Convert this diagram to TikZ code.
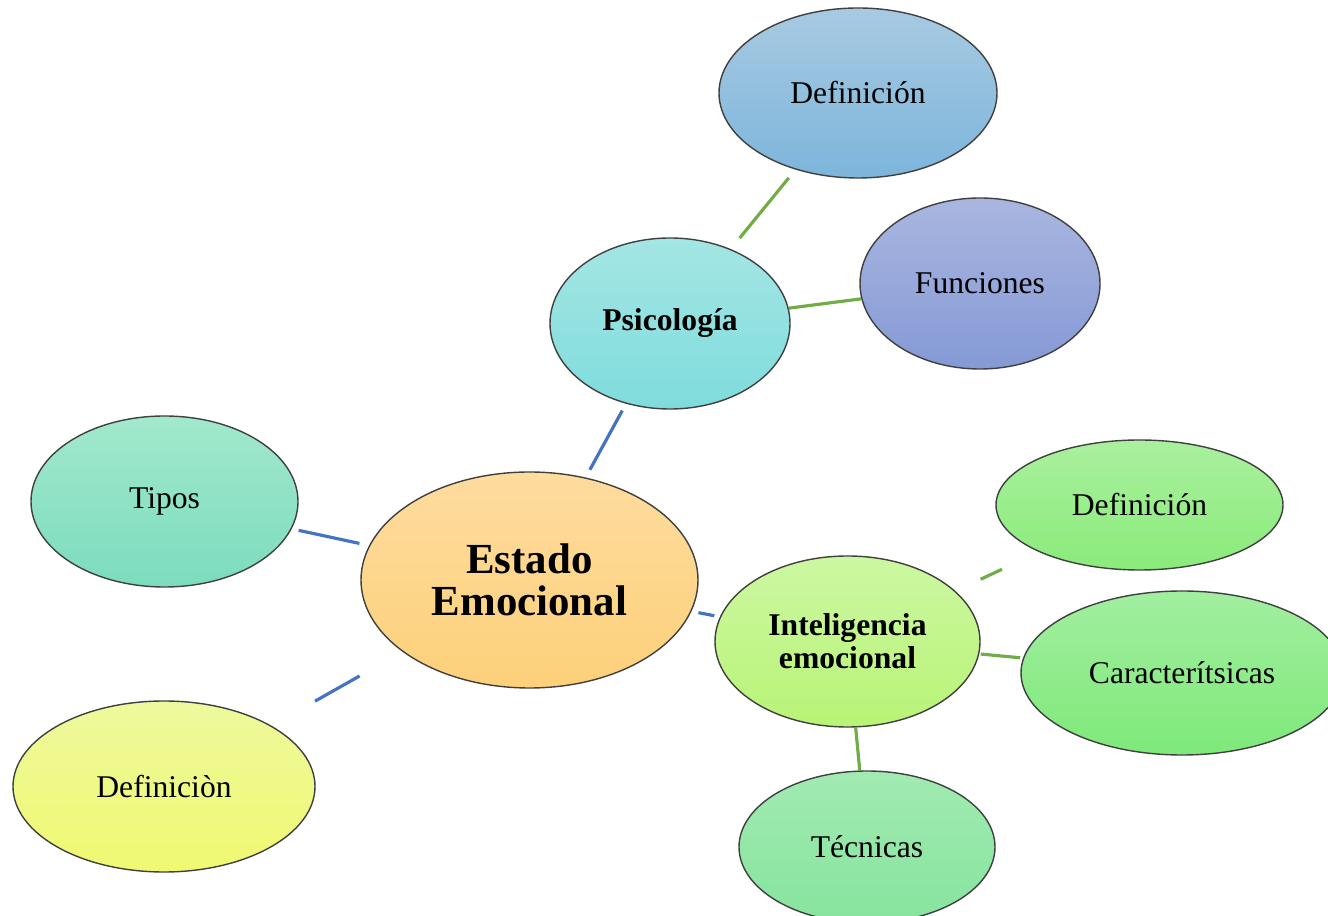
\documentclass[tikz,border=0pt]{standalone}
\usepackage{fontspec}
\setmainfont{Liberation Serif}
\usetikzlibrary{shapes.geometric,shadings}

\definecolor{azul}{HTML}{4472C4}
\definecolor{verde}{HTML}{70AD47}
\definecolor{borde}{HTML}{404040}
\definecolor{estA}{HTML}{FEDC9F}   \definecolor{estB}{HTML}{FDD07A}
\definecolor{psiA}{HTML}{A4E6E4}   \definecolor{psiB}{HTML}{7FDCDC}
\definecolor{defA}{HTML}{A8CAE2}   \definecolor{defB}{HTML}{7CB5DB}
\definecolor{funA}{HTML}{A9B6E0}   \definecolor{funB}{HTML}{8599D5}
\definecolor{tipA}{HTML}{A2E8CC}   \definecolor{tipB}{HTML}{7CDCBE}
\definecolor{amaA}{HTML}{EEF99E}   \definecolor{amaB}{HTML}{F0F970}
\definecolor{intA}{HTML}{CDF7A2}   \definecolor{intB}{HTML}{B8F476}
\definecolor{verA}{HTML}{AAF09E}   \definecolor{verB}{HTML}{8AEB7A}
\definecolor{carA}{HTML}{A2EEA0}   \definecolor{carB}{HTML}{7EE97A}
\definecolor{tecA}{HTML}{A2EAB2}   \definecolor{tecB}{HTML}{86E49E}

\begin{document}
\begin{tikzpicture}[
    globo/.style 2 args={ellipse, draw=borde, line width=0.4pt, inner sep=0pt,
        top color=#1, bottom color=#2, align=center,
        font=\fontsize{9}{9.4}\selectfont},
    ramaA/.style={draw=azul, line width=0.9pt},
    ramaV/.style={draw=verde, line width=0.9pt}
]
    \useasboundingbox (0,0) rectangle (13.28,-9.16);

    \node[globo={estA}{estB}, minimum width=3.37cm, minimum height=2.16cm,
        font=\fontsize{12.2}{12}\selectfont\bfseries] (E) at (5.295,-5.80) {Estado\\Emocional};

    \node[globo={psiA}{psiB}, minimum width=2.40cm, minimum height=1.71cm,
        font=\fontsize{9}{9.4}\selectfont\bfseries] (P) at (6.70,-3.235) {Psicología};
    \node[globo={defA}{defB}, minimum width=2.78cm, minimum height=1.70cm] (D) at (8.58,-0.93) {Definición};
    \node[globo={funA}{funB}, minimum width=2.40cm, minimum height=1.71cm] (F) at (9.80,-2.835) {Funciones};

    \node[globo={tipA}{tipB}, minimum width=2.67cm, minimum height=1.71cm] (T) at (1.645,-5.015) {Tipos};
    \node[globo={amaA}{amaB}, minimum width=3.02cm, minimum height=1.71cm] (L) at (1.64,-7.865) {Definiciòn};

    \node[globo={intA}{intB}, minimum width=2.65cm, minimum height=1.71cm,
        font=\fontsize{9}{9.4}\selectfont\bfseries] (I) at (8.475,-6.415) {Inteligencia\\emocional};
    \node[globo={verA}{verB}, minimum width=2.87cm, minimum height=1.30cm] (R) at (11.395,-5.05) {Definición};
    \node[globo={carA}{carB}, minimum width=3.22cm, minimum height=1.64cm] (C) at (11.82,-6.73) {Caracterítsicas};
    \node[globo={tecA}{tecB}, minimum width=2.56cm, minimum height=1.52cm] (K) at (8.67,-8.47) {Técnicas};

    % ramas del centro
    \draw[ramaA, shorten <=2.5pt, shorten >=2.2pt] (E) -- (P);
    \draw[ramaA, shorten <=2pt, shorten >=2.8pt] (T) -- (E);
    \draw[ramaA, shorten <=14.2pt, shorten >=14pt] (L) -- (E);
    \draw[ramaA, shorten <=2pt, shorten >=1.6pt] (E) -- (I);

    % ramas secundarias
    \draw[ramaV, shorten <=4pt, shorten >=3pt] (P) -- (D);
    \draw[ramaV] (P) -- (F);
    \draw[ramaV, shorten <=7.9pt, shorten >=11.6pt] (I) -- (R);
    \draw[ramaV, shorten <=0.4pt, shorten >=0.8pt] (I) -- (C);
    \draw[ramaV] (I) -- (K);
\end{tikzpicture}
\end{document}
